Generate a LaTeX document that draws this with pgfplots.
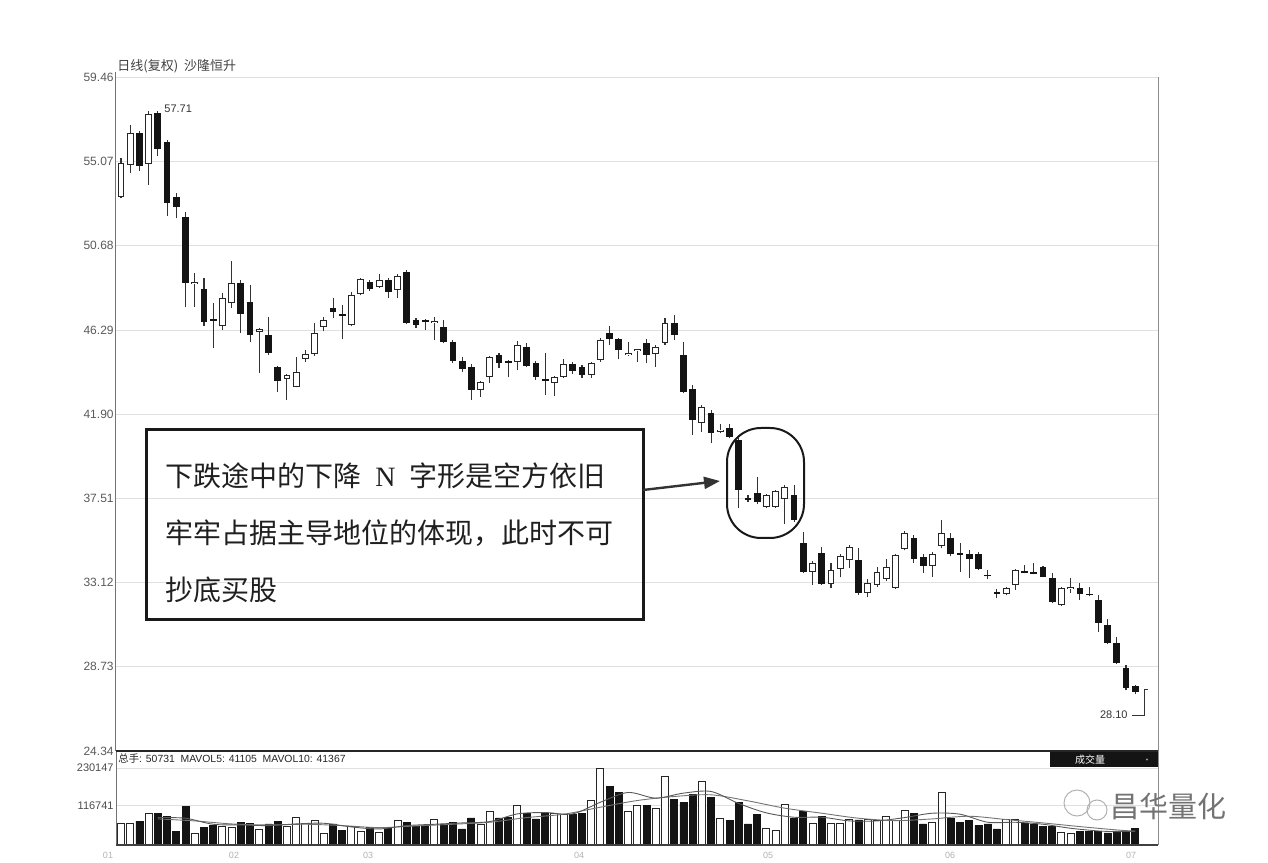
\documentclass[border=0pt]{standalone}
\usepackage{fontspec}
\setmainfont{Liberation Sans}
\newfontfamily\cjk{Noto Sans CJK SC}
\usepackage{pgfplots}
\usepackage{pgfplotstable}
\pgfplotsset{compat=1.18}
\usetikzlibrary{arrows.meta}

% up (white) candles: x open high low close
\pgfplotstableread{
x o h l c
0 53.23 55.26 53.15 55.00
1 54.90 56.98 54.48 56.55
3 54.95 57.71 53.86 57.55
8 48.70 49.27 47.50 48.80
11 46.50 48.22 46.29 47.96
12 47.70 49.89 47.44 48.75
15 46.20 46.40 44.05 46.32
18 43.75 44.00 42.65 43.95
19 43.32 44.89 43.30 44.10
20 44.78 45.25 44.63 45.04
21 45.04 46.66 44.95 46.14
22 46.45 46.97 46.24 46.82
25 46.56 48.28 46.50 48.12
26 48.17 49.00 48.10 48.95
28 48.54 49.22 48.50 48.90
30 48.38 49.20 47.96 49.11
34 46.64 46.97 45.77 46.74
39 43.17 43.65 42.80 43.58
40 43.84 44.95 43.53 44.89
43 44.63 45.70 44.20 45.51
47 43.53 43.90 42.86 43.84
48 43.84 44.78 43.80 44.52
51 43.95 44.65 43.79 44.57
52 44.73 45.90 44.63 45.77
55 44.98 45.67 44.95 45.08
56 45.20 45.30 44.63 45.30
58 45.04 45.50 44.37 45.40
59 45.62 46.92 45.50 46.66
63 41.45 42.40 40.98 42.28
65 41.00 41.40 40.90 41.10
70 37.07 37.75 37.00 37.69
71 37.07 37.95 37.00 37.90
72 37.49 38.20 36.18 38.11
75 33.68 34.25 33.00 34.15
77 33.05 34.15 32.85 33.78
78 33.84 34.60 33.40 34.51
79 34.30 35.10 33.90 34.98
81 32.58 33.30 32.37 33.10
82 33.00 33.94 32.90 33.68
83 33.31 34.36 33.20 33.94
84 32.84 34.60 32.80 34.56
85 34.88 35.80 34.80 35.71
88 33.99 34.70 33.42 34.60
89 35.03 36.39 34.90 35.71
96 32.53 32.90 32.45 32.84
97 33.00 33.85 32.74 33.78
102 31.96 32.90 31.90 32.84
103 32.80 33.36 32.60 32.90
}\upT

% down (black) candles: x open high low close
\pgfplotstableread{
x o h l c
2 56.55 56.65 54.60 54.85
4 57.60 57.71 55.37 55.73
5 56.10 56.20 52.24 52.92
6 53.23 53.44 52.13 52.71
7 52.19 52.45 47.49 48.75
9 48.43 48.99 46.50 46.71
10 46.85 47.70 45.36 46.75
13 48.75 48.90 46.14 47.13
14 47.76 48.64 45.67 46.03
16 46.03 46.97 45.00 45.10
17 44.37 44.40 43.06 43.64
23 47.44 47.96 46.92 47.23
24 47.14 47.60 45.82 47.04
27 48.80 48.90 48.35 48.43
29 48.90 49.00 47.96 48.28
31 49.32 49.40 46.60 46.66
32 46.82 46.92 46.40 46.56
33 46.82 46.85 46.29 46.70
35 46.45 46.82 45.60 45.67
36 45.67 45.75 44.57 44.68
37 44.68 44.90 44.10 44.26
38 44.37 44.50 42.65 43.17
41 45.00 45.10 44.31 44.57
42 44.68 44.75 43.84 44.58
44 45.41 45.62 44.37 44.42
45 44.57 44.70 43.70 43.84
46 43.72 45.10 42.91 43.62
49 44.52 44.60 44.00 44.16
50 44.37 44.45 43.79 43.95
53 46.14 46.50 45.51 45.82
54 45.82 45.90 44.78 45.25
57 45.62 45.80 44.57 45.00
60 46.66 47.08 45.77 46.03
61 45.00 45.67 43.00 43.06
62 43.22 43.43 40.82 41.60
64 41.97 42.10 40.40 40.93
66 41.19 41.40 40.65 40.72
67 40.56 40.65 37.01 37.95
68 37.54 37.70 37.30 37.45
69 37.80 38.63 37.20 37.33
73 37.69 38.21 36.30 36.39
74 35.19 35.76 33.60 33.68
76 34.67 34.98 33.00 33.05
80 34.30 34.93 32.50 32.58
86 35.45 35.60 34.15 34.36
87 34.46 34.60 33.63 33.99
90 35.45 35.70 34.50 34.62
91 34.64 35.19 33.68 34.55
92 34.62 34.83 33.36 34.36
93 34.62 34.70 33.80 33.84
94 33.54 33.80 33.30 33.45
95 32.64 32.80 32.30 32.55
98 33.72 34.04 33.60 33.63
99 33.68 34.15 33.55 33.59
100 33.94 34.00 33.40 33.42
101 33.36 33.63 32.05 32.11
104 32.84 33.10 32.22 32.53
105 32.54 32.90 32.40 32.45
106 32.22 32.48 30.55 31.02
107 30.91 31.23 29.90 29.97
108 29.97 30.29 28.90 28.93
109 28.67 28.80 27.50 27.63
110 27.73 27.80 27.30 27.42
}\downT

\pgfplotstableread{
x v
0 63000
1 63000
3 95000
8 34000
11 55000
12 51000
15 45000
18 55000
19 81000
20 63000
21 73000
22 34000
25 55000
26 41000
28 38000
30 73000
34 75000
39 61000
40 101000
43 119000
47 93000
48 91000
51 134000
52 230000
55 101000
56 119000
58 110000
59 205000
63 191000
65 79000
70 48000
71 43000
72 122000
75 63000
77 63000
78 63000
79 75000
81 75000
82 73000
83 85000
84 73000
85 103000
88 68000
89 156000
96 75000
97 75000
102 38000
103 35000
}\volUp

\pgfplotstableread{
x v
2 71000
4 95000
5 85000
6 41000
7 114000
9 53000
10 58000
13 68000
14 65000
16 63000
17 71000
23 63000
24 43000
27 53000
29 51000
31 68000
32 55000
33 55000
35 63000
36 68000
37 48000
38 81000
41 81000
42 83000
44 95000
45 78000
46 95000
49 91000
50 95000
53 176000
54 156000
57 119000
60 136000
61 127000
62 152000
64 142000
66 73000
67 127000
68 63000
69 91000
73 81000
74 101000
76 85000
80 75000
86 95000
87 63000
90 80000
91 68000
92 73000
93 58000
94 63000
95 48000
98 66000
99 63000
100 55000
101 55000
104 40000
105 40145
106 40000
107 36000
108 42000
109 36794
110 50731
}\volDown

\pgfplotstableread{
x v
4 78000
8 72000
12 63000
16 60000
20 62000
24 58000
28 52000
32 57000
36 62000
40 68000
44 82000
48 92000
52 113000
56 133000
60 145000
64 150000
68 132000
72 110000
76 95000
80 80000
84 73000
88 78000
92 86000
96 76000
100 66000
104 55000
108 45000
110 41367
}\maTen

\pgfplotstableread{
x v
4 82000
7 80000
10 62000
13 60000
16 58000
19 63000
22 65000
25 54000
28 48000
31 58000
34 62000
37 66000
40 70000
43 93000
46 97000
49 93000
52 128000
55 157000
58 140000
61 155000
64 160000
67 124000
70 96000
73 83000
76 83000
79 72000
82 72000
85 82000
88 95000
91 92000
94 68000
97 68000
100 62000
103 50000
106 42000
108 40000
110 41105
}\maFive

\pgfplotsset{
  candlepart/.style={only marks, mark=*, mark size=0pt, mark options={draw=none, fill=none}, forget plot,
    error bars/y dir=plus, error bars/y explicit, error bars/error mark=none},
}

\begin{document}
\begin{tikzpicture}
\useasboundingbox (0,0) rectangle (634pt,431pt);

% ---------------- price panel ----------------
\begin{axis}[
  at={(58pt,55.5pt)}, anchor=south west,
  width=521pt, height=336.75pt, scale only axis,
  xmin=-0.54, xmax=112.47, ymin=24.34, ymax=59.46,
  axis line style={draw=none},
  xtick=\empty,
  ytick={24.34,28.73,33.12,37.51,41.90,46.29,50.68,55.07,59.46},
  yticklabels={24.34,28.73,33.12,37.51,41.90,46.29,50.68,55.07,59.46},
  ymajorgrids, grid style={black!12, line width=0.5pt},
  major tick length=0pt,
  yticklabel style={font=\fontsize{6}{6}\selectfont, text=black!65, anchor=east, inner sep=1pt},
  /pgf/number format/assume math mode=true,
  clip=false,
]
% wicks
\addplot[candlepart, /pgfplots/error bars/error bar style={line width=0.55pt, black!80}]
  table[x=x, y=l, y error plus expr=\thisrow{h}-\thisrow{l}] {\upT};
\addplot[candlepart, /pgfplots/error bars/error bar style={line width=0.55pt, black!80}]
  table[x=x, y=l, y error plus expr=\thisrow{h}-\thisrow{l}] {\downT};
% black bodies
\addplot[candlepart, /pgfplots/error bars/error bar style={line width=3.4pt, black!92}]
  table[x=x, y=c, y error plus expr=\thisrow{o}-\thisrow{c}] {\downT};
% white bodies: outline then fill
\addplot[candlepart, /pgfplots/error bars/error bar style={line width=3.4pt, black!85}]
  table[x=x, y=o, y error plus expr=\thisrow{c}-\thisrow{o}] {\upT};
\addplot[candlepart, /pgfplots/error bars/error bar style={line width=2.4pt, white, shorten <=0.45pt, shorten >=0.45pt}]
  table[x=x, y=o, y error plus expr=\thisrow{c}-\thisrow{o}] {\upT};
\draw[black!55, line width=0.5pt] (rel axis cs:0,0) -- (rel axis cs:0,1.008);
\draw[black!45, line width=0.5pt] (rel axis cs:1,0) -- (rel axis cs:1,1);
\end{axis}

% ---------------- volume panel ----------------
\begin{axis}[
  at={(58pt,8.5pt)}, anchor=south west,
  width=521pt, height=47pt, scale only axis,
  xmin=-0.54, xmax=112.47, ymin=0, ymax=280959,
  axis line style={draw=none},
  xtick=\empty,
  ytick={116741,230147}, yticklabels={116741,230147},
  scaled y ticks=false,
  ymajorgrids, grid style={black!12, line width=0.5pt},
  major tick length=0pt,
  yticklabel style={font=\fontsize{5.5}{5.5}\selectfont, text=black!70, anchor=east, inner sep=1pt},
  /pgf/number format/assume math mode=true,
  clip=false,
]
\addplot[ybar, bar width=3.5pt, bar shift=0pt, fill=black!92, draw=black!92, line width=0.4pt, forget plot]
  table[x=x, y=v] {\volDown};
\addplot[ybar, bar width=3.5pt, bar shift=0pt, fill=white, draw=black!85, line width=0.5pt, forget plot]
  table[x=x, y=v] {\volUp};
\addplot[smooth, no markers, black!55, line width=0.45pt, forget plot] table[x=x, y=v] {\maTen};
\addplot[smooth, no markers, black!65, line width=0.45pt, forget plot] table[x=x, y=v] {\maFive};
\draw[black!55, line width=0.5pt] (rel axis cs:0,0) -- (rel axis cs:0,1);
\draw[black!45, line width=0.5pt] (rel axis cs:1,0) -- (rel axis cs:1,1);
\draw[black!75, line width=0.6pt] (rel axis cs:0,0) -- (rel axis cs:1,0);
\draw[black!85, line width=1pt] (rel axis cs:0,1) -- (rel axis cs:1,1);
\end{axis}

% ---------------- annotations (pixel coordinates of the reference) ----------------
\begin{scope}[x=0.5pt, y=-0.5pt, yshift=431pt]
  % title
  \node[anchor=west, inner sep=0pt, font=\cjk\fontsize{6.5}{6.5}\selectfont, text=black!75] at (117,66) {日线(复权)\ \ 沙隆恒升};
  % max / min labels
  \node[anchor=west, inner sep=0pt, font=\fontsize{5.5}{5.5}\selectfont, text=black!80] at (164,109) {57.71};
  \node[anchor=east, inner sep=0pt, font=\fontsize{5.5}{5.5}\selectfont, text=black!80] at (1128,715) {28.10};
  \draw[black!80, line width=0.5pt] (1132,715) -- (1144,715) -- (1144,690) -- (1148,690);
  % volume header
  \node[anchor=west, inner sep=0pt, font=\fontsize{5.2}{5.2}\selectfont, text=black!85] at (118,759)
    {{\cjk 总手}: 50731\ \ MAVOL5: 41105\ \ MAVOL10: 41367};
  % 成交量 tag
  \fill[black!92] (1050,752) rectangle (1158,767);
  \node[inner sep=0pt, font=\cjk\fontsize{5}{5}\selectfont, text=white] at (1090,759.5) {成交量};
  \fill[black!40] (1147,759.5) circle (1.2);
  % x labels
  \foreach \xx/\tt in {108/01,234/02,368/03,579/04,768/05,950/06,1131/07}
    \node[inner sep=0pt, font=\fontsize{4.5}{4.5}\selectfont, text=black!30] at (\xx,855) {\tt};
  % watermark
  \draw[black!30, line width=0.5pt] (1077,803) circle (13);
  \draw[black!30, line width=0.5pt] (1097,810) circle (10);
  \node[anchor=west, inner sep=0pt, font=\cjk\fontsize{14.5}{14.5}\selectfont, text=black!55] at (1110,806) {昌华量化};
  % annotation box
  \draw[black!90, line width=1.5pt] (146,430) rectangle (643,620);
  \node[anchor=west, inner sep=0pt, font=\cjk\fontsize{14}{14}\selectfont, text=black!88] at (165,476)
    {下跌途中的下降\hspace{7pt}{\fontspec{Liberation Serif}N}\hspace{7pt}字形是空方依旧};
  \node[anchor=west, inner sep=0pt, font=\cjk\fontsize{14}{14}\selectfont, text=black!88] at (165,533)
    {牢牢占据主导地位的体现，此时不可};
  \node[anchor=west, inner sep=0pt, font=\cjk\fontsize{14}{14}\selectfont, text=black!88] at (165,590)
    {抄底买股};
  % arrow
  \draw[black!80, line width=1.2pt, -{Triangle[length=8pt, width=6pt]}] (643,490) -- (720,481);
  % rounded marker
  \draw[black!90, line width=1pt, rounded corners=17pt] (727,428) rectangle (804,538);
\end{scope}
\end{tikzpicture}
\end{document}
